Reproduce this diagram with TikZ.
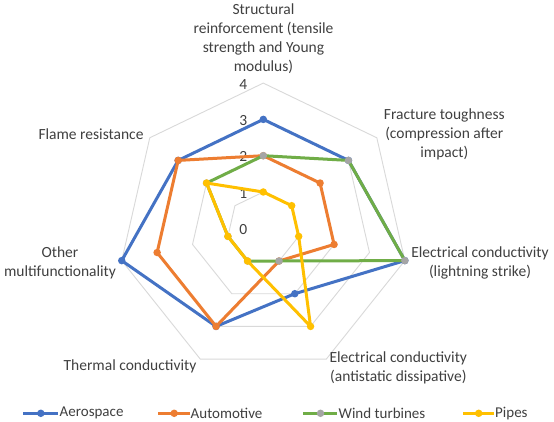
\documentclass[tikz,border=0pt]{standalone}
\usepackage{fontspec}
\setmainfont{Carlito}
\definecolor{aeroc}{HTML}{4472C4}
\definecolor{autoc}{HTML}{ED7D31}
\definecolor{windc}{HTML}{70AD47}
\definecolor{windm}{HTML}{A5A5A5}
\definecolor{pipec}{HTML}{FFC000}
\definecolor{gridc}{HTML}{D9D9D9}
\definecolor{txt}{HTML}{404040}
\tikzset{
  gridline/.style={draw=gridc, line width=0.9pt},
  serline/.style={line width=3pt, line join=round, line cap=round},
  mk/.style={circle, inner sep=0pt, minimum size=7.5pt, draw=none},
  lbl/.style={text=txt, align=center, inner sep=0pt, font=\fontsize{15.5}{19}\selectfont},
  tick/.style={text=txt, inner sep=0pt, font=\fontsize{15.5}{19}\selectfont},
  legtxt/.style={text=txt, anchor=west, inner sep=0pt, font=\fontsize{15}{18}\selectfont},
}
\begin{document}
\begin{tikzpicture}[x=1pt,y=1pt]
\useasboundingbox (0,0) rectangle (554,-422);
\fill[white] (0,0) rectangle (554,-422);
\coordinate (C) at (263.3,-228.3);
% grid rings
\foreach \l in {1,2,3,4}
  \draw[gridline] ([shift={(C)}]90:{\l*36.3pt})
    \foreach \k in {1,...,6}{ -- ([shift={(C)}]{90-\k*360/7}:{\l*36.3pt})} -- cycle;
% tick labels
\foreach \l in {0,...,4}
  \node[tick] (t\l) at (243.3,{-229.5+\l*36.3}) {\l};
% data coordinates
\foreach \v [count=\k from 0] in {3,3,4,2,3,4,3}
  \coordinate (a\k) at ([shift={(C)}]{90-\k*360/7}:{\v*36.3pt});
\foreach \v [count=\k from 0] in {2,2,2,1,3,3,3}
  \coordinate (b\k) at ([shift={(C)}]{90-\k*360/7}:{\v*36.3pt});
\foreach \v [count=\k from 0] in {2,3,4,1,1,1,2}
  \coordinate (w\k) at ([shift={(C)}]{90-\k*360/7}:{\v*36.3pt});
\foreach \v [count=\k from 0] in {1,1,1,3,1,1,2}
  \coordinate (p\k) at ([shift={(C)}]{90-\k*360/7}:{\v*36.3pt});
% series
\draw[serline, aeroc] (a0)--(a1)--(a2)--(a3)--(a4)--(a5)--(a6)--cycle;
\foreach \k in {0,...,6} \node[mk, fill=aeroc] (am\k) at (a\k) {};
\draw[serline, autoc] (b0)--(b1)--(b2)--(b3)--(b4)--(b5)--(b6)--cycle;
\foreach \k in {0,...,6} \node[mk, fill=autoc] (bm\k) at (b\k) {};
\draw[serline, windc] (w0)--(w1)--(w2)--(w3)--(w4)--(w5)--(w6)--cycle;
\foreach \k in {0,...,6} \node[mk, fill=windm] (wm\k) at (w\k) {};
\draw[serline, pipec] (p0)--(p1)--(p2)--(p3)--(p4)--(p5)--(p6)--cycle;
\foreach \k in {0,...,6} \node[mk, fill=pipec] (pm\k) at (p\k) {};
% category labels
\node[lbl] (c0) at (263.5,-38.5) {Structural\\reinforcement (tensile\\strength and Young\\modulus)};
\node[lbl] (c1) at (444.3,-134) {Fracture toughness\\(compression after\\impact)};
\node[lbl] (c2) at (480,-262.5) {Electrical conductivity\\(lightning strike)};
\node[lbl] (c3) at (398.3,-368.3) {Electrical conductivity\\(antistatic dissipative)};
\node[lbl] (c4) at (130,-366.7) {Thermal conductivity};
\node[lbl] (c5) at (60,-263.3) {Other\\multifunctionality};
\node[lbl] (c6) at (91,-134) {Flame resistance};
% legend
\coordinate (la1) at (23.3,-413.3); \coordinate (la2) at (58.3,-413.3);
\draw[line width=3pt, aeroc] (la1) -- (la2);
\node[mk, fill=aeroc] (lam) at (40.8,-413.3) {};
\node[legtxt] (lat) at (59.5,-413.3) {Aerospace};
\coordinate (lb1) at (158.3,-413.3); \coordinate (lb2) at (190,-413.3);
\draw[line width=3pt, autoc] (lb1) -- (lb2);
\node[mk, fill=autoc] (lbm) at (174.2,-413.3) {};
\node[legtxt] (lbt) at (190.5,-413.3) {Automotive};
\coordinate (lw1) at (303.3,-413.3); \coordinate (lw2) at (337,-413.3);
\draw[line width=3pt, windc] (lw1) -- (lw2);
\node[mk, fill=windm] (lwm) at (320.5,-413.3) {};
\node[legtxt] (lwt) at (338.5,-413.3) {Wind turbines};
\coordinate (lp1) at (463.3,-413.3); \coordinate (lp2) at (494,-413.3);
\draw[line width=3pt, pipec] (lp1) -- (lp2);
\node[mk, fill=pipec] (lpm) at (478.7,-413.3) {};
\node[legtxt] (lpt) at (495,-413.3) {Pipes};
\end{tikzpicture}
\end{document}
